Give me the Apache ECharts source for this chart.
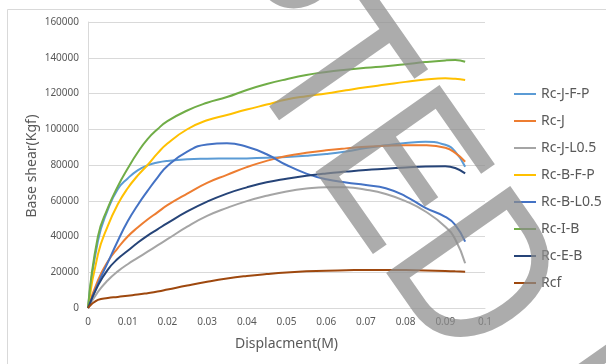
<!DOCTYPE html>
<html><head><meta charset="utf-8">
<script src="https://cdn.jsdelivr.net/npm/echarts@6/dist/echarts.min.js"></script>
<style>html,body{margin:0;padding:0;background:#fff;}#c{width:606px;height:364px;}</style>
</head><body><div id="c"></div>
<script>
var seriesNames = ['Rc-J-F-P','Rc-J','Rc-J-L0.5','Rc-B-F-P','Rc-B-L0.5','Rc-I-B','Rc-E-B','Rcf'];
var colors = ['#5B9BD5','#ED7D31','#A5A5A5','#FFC000','#4472C4','#70AD47','#264478','#9E480E'];

// displacement (M) sample positions shared by all curves
var disp = [0,0.0025,0.005,0.0075,0.01,0.0125,0.015,0.0175,0.02,0.025,0.03,0.035,0.04,0.045,0.05,0.055,0.06,0.065,0.07,0.075,0.08,0.085,0.09,0.0925,0.095];

var vRcJFP  = [0,37500,55000,66500,72500,77000,79800,81400,82300,83200,83500,83600,83700,84000,84500,85200,86200,87600,89500,91000,92300,93000,91300,87500,79000];
var vRcJ    = [0,15500,26000,33500,40000,45000,49500,53500,57500,64000,70000,74500,78800,82300,85000,86800,88200,89300,90200,90800,91100,91000,89600,86800,81800];
var vRcJL05 = [0,9000,15500,20500,24500,28000,31500,35000,38500,45500,51500,56000,59800,62800,65200,66800,67600,67500,66200,63800,59800,54000,45500,38500,25000];
var vRcBFP  = [0,30000,46000,58000,67000,74000,80000,86500,92000,100000,105000,108000,111000,113800,116600,118500,120000,121800,123500,125000,126500,127800,128500,128200,127500];
var vRcBL05 = [0,13500,25500,37500,48500,57500,65500,73000,79500,87500,91500,92200,90200,86000,80000,75200,72000,70200,68800,67000,62500,56000,51000,46500,37100];
var vRcIB   = [0,40000,56000,68000,78000,87000,94500,100000,104500,110500,114800,118000,122000,125300,128000,130300,132000,133300,134400,135300,136400,137600,138500,138700,137800];
var vRcEB   = [0,12500,21500,27500,32000,36500,40500,44000,47500,54000,59500,64000,67500,70300,72300,74000,75300,76300,77200,77900,78600,79200,79300,78300,75300];
var vRcf    = [0,4500,5600,6200,6900,7500,8300,9200,10300,12600,14700,16500,17900,19000,19900,20500,20900,21100,21300,21300,21200,21000,20700,20500,20300];

var valArrays = [vRcJFP,vRcJ,vRcJL05,vRcBFP,vRcBL05,vRcIB,vRcEB,vRcf];

var xTitle = 'Displacment(M)';
var yTitle = 'Base shear(Kgf)';
var watermark = 'ACCEPTED MANUSCRIPT';

var txt = '#595959';
var chart = echarts.init(document.getElementById('c'), null, {renderer:'canvas'});
var series = seriesNames.map(function(n,i){
  return {
    name:n, type:'line', smooth:0.5, showSymbol:false, symbol:'none',
    lineStyle:{width:2,color:colors[i]}, itemStyle:{color:colors[i]},
    data: disp.map(function(d,j){return [d, valArrays[i][j]];}),
    z:2
  };
});
chart.setOption({
  animation:false,
  backgroundColor:'#fff',
  grid:{left:88,right:121,top:22,bottom:56},
  xAxis:{type:'value',min:0,max:0.1,interval:0.01,
    name:xTitle,nameLocation:'middle',nameGap:29,
    nameTextStyle:{color:txt,fontSize:14,fontFamily:'Noto Sans'},
    axisLine:{show:true,lineStyle:{color:'#d9d9d9'}},axisTick:{show:false},
    splitLine:{show:false},
    axisLabel:{color:txt,fontSize:10,fontFamily:'Noto Sans',margin:9,formatter:function(v){return String(+v.toFixed(2));}}},
  yAxis:{type:'value',min:0,max:160000,interval:20000,
    axisLine:{show:true,lineStyle:{color:'#d9d9d9'}},axisTick:{show:false},
    splitLine:{show:true,lineStyle:{color:'#d9d9d9',width:1}},
    axisLabel:{color:txt,fontSize:10,fontFamily:'Noto Sans',margin:9,formatter:function(v){return String(v);}}},
  legend:{orient:'vertical',left:509,top:81,itemWidth:22,itemHeight:2,icon:'rect',itemGap:11,
    textStyle:{color:txt,fontSize:14,fontFamily:'Noto Sans',lineHeight:16},
    data:seriesNames},
  graphic:[
    {type:'rect',shape:{x:7.5,y:9.5,width:700,height:400},style:{fill:'none',stroke:'#d9d9d9',lineWidth:1},z:0,silent:true},
    {type:'text',x:32,y:166,rotation:Math.PI/2,z:5,silent:true,
      style:{text:yTitle,fontSize:14,fontFamily:'Noto Sans',fill:txt,
        textAlign:'center',textVerticalAlign:'middle',align:'center',verticalAlign:'middle'}},
    {type:'text',x:-74,y:-490,rotation:-55*Math.PI/180,scaleY:1.19,z:100,silent:true,
      style:{text:watermark,fontSize:185,fontFamily:'Liberation Sans',fill:'rgba(140,140,140,0.72)',
        textAlign:'left',textVerticalAlign:'middle',align:'left',verticalAlign:'middle'}}
  ],
  series:series
});
</script></body></html>
